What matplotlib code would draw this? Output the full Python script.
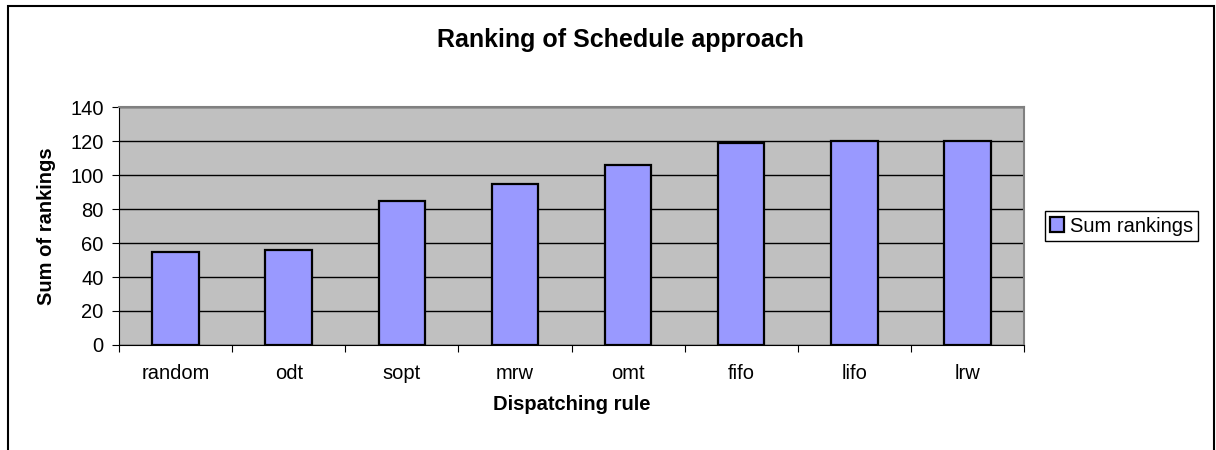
import numpy as np
import matplotlib
matplotlib.use("Agg")
import matplotlib.pyplot as plt
from matplotlib.patches import Rectangle
from matplotlib.ticker import FixedLocator, NullFormatter

rules = ["random", "odt", "sopt", "mrw", "omt", "fifo", "lifo", "lrw"]
sum_rankings = [55, 56, 85, 95, 106, 119, 120, 120]

plt.rcParams["font.family"] = ["Liberation Sans", "DejaVu Sans"]
FS = 14.5

fig = plt.figure(figsize=(12.16, 4.5), dpi=100)
ax = fig.add_axes([119 / 1216, 1 - 345 / 450, (1024 - 119) / 1216, (345 - 107) / 450])

x = np.arange(len(rules))
ax.set_facecolor("#C0C0C0")
ax.bar(x, sum_rankings, width=0.41, color="#9999FF", edgecolor="black",
       linewidth=1.6, label="Sum rankings", zorder=3)

ax.set_xlim(-0.5, len(rules) - 0.5)
ax.set_ylim(0, 140)
ax.set_yticks(np.arange(0, 141, 20))
ax.yaxis.grid(True, color="black", linewidth=1.0, zorder=1)
ax.set_axisbelow(True)

# category labels centred, ticks between categories
ax.set_xticks(x)
ax.set_xticklabels(rules, fontsize=FS)
ax.tick_params(axis="x", which="major", length=0, pad=14)
ax.xaxis.set_minor_locator(FixedLocator(np.arange(-0.5, len(rules), 1)))
ax.xaxis.set_minor_formatter(NullFormatter())
ax.tick_params(axis="x", which="minor", length=5, width=0.8, color="black", direction="out")
ax.tick_params(axis="y", length=5, width=0.8, labelsize=FS, direction="out", pad=6)

for s in ["top", "right"]:
    ax.spines[s].set_color("#808080")
    ax.spines[s].set_linewidth(1.5)
ax.spines["left"].set_color("black")
ax.spines["bottom"].set_color("black")

ax.set_xlabel("Dispatching rule", fontsize=FS, fontweight="bold", labelpad=8)
ax.set_ylabel("Sum of rankings", fontsize=FS, fontweight="bold", labelpad=10)

fig.text(620 / 1216, 1 - 40 / 450, "Ranking of Schedule approach", fontsize=18,
         fontweight="bold", ha="center", va="center")

leg = fig.legend(loc="center left", bbox_to_anchor=(1045 / 1216, 1 - 226 / 450),
                 fontsize=FS, fancybox=False, edgecolor="black", framealpha=1,
                 handlelength=0.7, handleheight=0.7, handletextpad=0.3,
                 borderpad=0.25, borderaxespad=0)
leg.get_frame().set_linewidth(1.0)

# outer chart border
fig.patches.append(Rectangle((8 / 1216, -0.05), (1214 - 8) / 1216, 1.05 - 6 / 450,
                             transform=fig.transFigure, fill=False,
                             edgecolor="black", linewidth=1.5))

fig.savefig("out.png", dpi=100)
